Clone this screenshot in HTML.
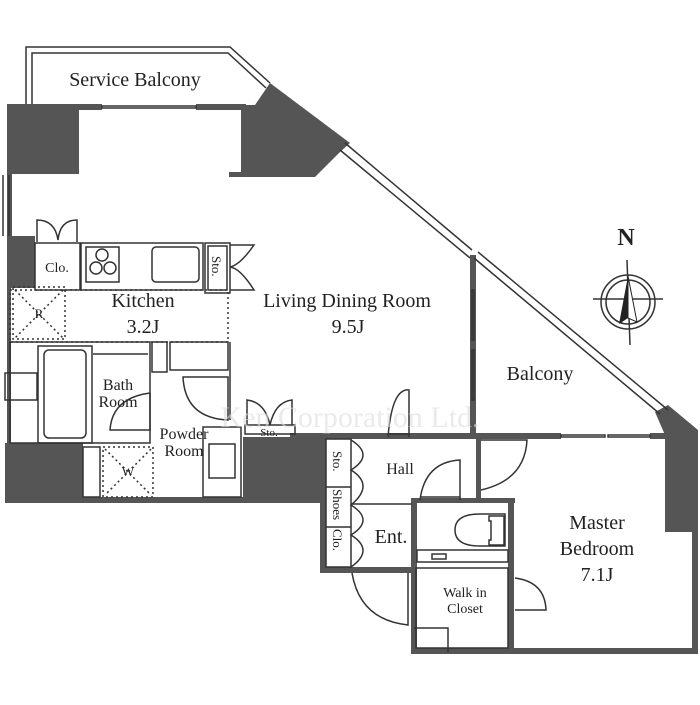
<!DOCTYPE html>
<html><head><meta charset="utf-8"><style>
body{margin:0;background:#fff}
svg text{font-family:"Liberation Serif",serif;fill:#222}
</style></head><body>
<svg width="700" height="700" viewBox="0 0 700 700" xmlns="http://www.w3.org/2000/svg">
<g fill="#555" stroke="none">
<rect x="7" y="104" width="72" height="70"/>
<rect x="7" y="104" width="95" height="6"/>
<rect x="196" y="104" width="50" height="6"/>
<polygon points="241,105 255,105 270,83 350,143 340,152 315,177 229,177 229,172 241,172"/>
<rect x="7" y="174" width="5" height="70"/>
<rect x="7" y="236" width="28" height="52"/>
<rect x="7" y="288" width="4" height="160"/>
<rect x="5" y="443" width="78" height="59"/>
<rect x="5" y="497" width="320" height="6"/>
<rect x="243" y="437" width="80" height="62"/>
<rect x="290" y="433" width="190" height="6"/>
<rect x="320" y="433" width="6" height="140"/>
<rect x="320" y="567" width="95" height="6"/>
<rect x="470" y="255" width="6" height="183"/>
<rect x="476" y="433" width="85" height="6"/>
<rect x="650" y="433" width="18" height="6"/>
<polygon points="655,412 668,405 698,430 698,532 665,532 665,435"/>
<rect x="692" y="530" width="6" height="124"/>
<rect x="411" y="648" width="287" height="6"/>
<rect x="411" y="498" width="6" height="156"/>
<rect x="411" y="498" width="104" height="5"/>
<rect x="508" y="498" width="6" height="156"/>
<rect x="476" y="433" width="5" height="70"/>
</g>
<g fill="none" stroke="#333" stroke-width="1.5">
<polyline points="26,104 26,47 230,47 270,83"/>
<polyline points="32,104 32,53 228,53 266,88"/>
<rect x="102" y="106" width="94" height="2"/>
<line x1="3" y1="175" x2="3" y2="236"/><line x1="9" y1="175" x2="9" y2="236"/>
<line x1="345" y1="143" x2="472" y2="250"/><line x1="340" y1="150" x2="470" y2="258"/>
<line x1="478" y1="252" x2="668" y2="410"/><line x1="474" y1="258" x2="660" y2="414"/>
<rect x="472" y="290" width="2" height="50"/><rect x="472" y="350" width="2" height="50"/>
<rect x="561" y="435" width="44" height="2"/><rect x="608" y="435" width="42" height="2"/>
<rect x="35" y="243" width="45" height="47"/>
<rect x="81" y="243" width="122" height="47"/>
<rect x="86" y="247" width="33" height="35"/>
<circle cx="102" cy="255" r="6"/><circle cx="96" cy="268" r="6"/><circle cx="110" cy="268" r="6"/>
<rect x="152" y="247" width="47" height="35" rx="4"/>
<rect x="205" y="243" width="25" height="50"/>
<rect x="208" y="246" width="19" height="44"/>
<path d="M37,242 V220 Q55,220 58,240 Q60,220 77,220 V242"/>
<path d="M230,245 H254 Q240,265 230,267 Q240,268 254,290 H230"/>
<rect x="10" y="290" width="218" height="52" stroke-dasharray="2,3"/>
<rect x="13" y="287" width="52" height="52" stroke-dasharray="2,3"/>
<path d="M15,290 L63,338 M63,290 L15,338" stroke-dasharray="2,3"/>
<rect x="10" y="342" width="140" height="101"/>
<rect x="38" y="346" width="54" height="97"/>
<rect x="44" y="350" width="42" height="88" rx="5"/>
<line x1="93" y1="354" x2="148" y2="354"/>
<rect x="5" y="373" width="32" height="27"/>
<path d="M150,393 V430 H110 Q112,398 150,393"/>
<rect x="152" y="342" width="15" height="30"/>
<rect x="170" y="342" width="58" height="28"/>
<line x1="230" y1="342" x2="230" y2="420"/>
<path d="M228,377 V420 Q185,418 183,377 Z"/>
<rect x="83" y="447" width="17" height="50"/>
<rect x="103" y="447" width="50" height="50" stroke-dasharray="2,3"/>
<path d="M105,449 L151,495 M151,449 L105,495" stroke-dasharray="2,3"/>
<rect x="203" y="427" width="38" height="70"/>
<rect x="209" y="444" width="26" height="34"/>
<rect x="245" y="425" width="50" height="9"/>
<path d="M247,425 V400 Q265,402 270,425 Q275,402 292,400 V425"/>
<rect x="326" y="439" width="25" height="128"/>
<line x1="326" y1="487" x2="351" y2="487"/><line x1="326" y1="527" x2="351" y2="527"/>
<path d="M351,440 Q375,455 351,470 Q375,485 351,505 Q375,520 351,535 Q375,550 351,567"/>
<line x1="351" y1="504" x2="412" y2="504"/>
<path d="M409,437 V390 Q392,388 388,437"/>
<line x1="388" y1="434" x2="409" y2="434"/>
<path d="M352,573 Q360,620 408,625 V573"/>
<path d="M460,500 V460 Q425,462 420,500"/>
<line x1="420" y1="497" x2="460" y2="497"/>
<path d="M481,440 H527 Q525,480 481,490"/>
<path d="M414,628 H448 V652"/>
<path d="M417,550 H508 V562 H417 Z"/>
<rect x="432" y="554" width="14" height="5"/>
<path d="M495,514 H480 Q455,514 455,530 Q455,546 480,546 H505 V514 Z"/>
<path d="M489,516 H504 V545 H489 V540 H491 V521 H489 Z"/>
<path d="M515,578 Q545,582 546,610 H515"/>
<rect x="416" y="568" width="92" height="80"/>
<circle cx="628" cy="302" r="27"/><circle cx="628" cy="302" r="22"/>
<line x1="593" y1="299" x2="663" y2="299"/><line x1="627" y1="260" x2="630" y2="345"/>
</g>
<polygon points="628,276 619,324 628,318" fill="#222"/>
<polygon points="628,276 637,322 628,318" fill="#fff" stroke="#222"/>
<g font-size="20">
<text x="135" y="86" text-anchor="middle">Service Balcony</text>
<text x="143" y="307" text-anchor="middle">Kitchen</text>
<text x="143" y="333" text-anchor="middle">3.2J</text>
<text x="347" y="307" text-anchor="middle">Living Dining Room</text>
<text x="348" y="333" text-anchor="middle">9.5J</text>
<text x="540" y="380" text-anchor="middle">Balcony</text>
<text x="597" y="529" text-anchor="middle">Master</text>
<text x="597" y="555" text-anchor="middle">Bedroom</text>
<text x="597" y="581" text-anchor="middle">7.1J</text>
<text x="391" y="543" text-anchor="middle">Ent.</text>
</g>
<g font-size="16" text-anchor="middle">
<text x="118" y="390">Bath</text><text x="118" y="407">Room</text>
<text x="184" y="439">Powder</text><text x="184" y="456">Room</text>
<text x="400" y="474">Hall</text>
<text x="57" y="272" font-size="14">Clo.</text>
<text x="465" y="597" font-size="14">Walk in</text><text x="465" y="613" font-size="14">Closet</text>
<text x="39" y="318" font-size="13">R</text>
<text x="128" y="476" font-size="13">W</text>
<text x="269" y="436" font-size="11">Sto.</text>
</g>
<g font-size="13">
<text transform="translate(212,256) rotate(90)">Sto.</text>
<text transform="translate(333,451) rotate(90)">Sto.</text>
<text transform="translate(333,489) rotate(90)">Shoes</text>
<text transform="translate(333,529) rotate(90)">Clo.</text>
</g>
<text x="626" y="245" font-size="24" font-weight="bold" text-anchor="middle">N</text>
<text x="350" y="427" font-size="30" style="fill:#ddd" text-anchor="middle" opacity="0.6">Ken Corporation Ltd.</text>
</svg>
</body></html>
